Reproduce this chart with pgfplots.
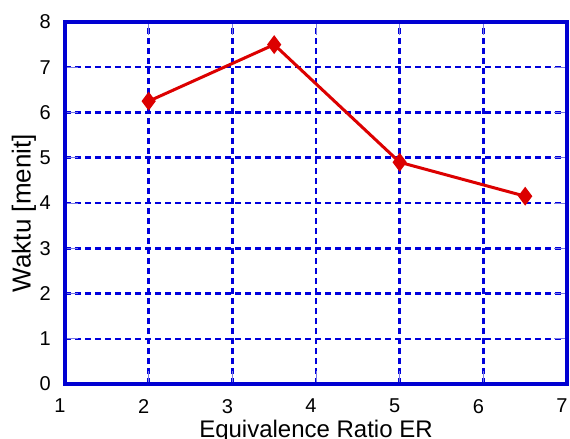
\documentclass[border=0pt]{standalone}
\usepackage{fontspec}
\setmainfont{Liberation Sans}
\usepackage{pgfplots}
\pgfplotsset{compat=1.18}

\definecolor{frameblue}{RGB}{0,0,210}
\definecolor{gridblue}{RGB}{0,0,220}
\definecolor{tickblue}{RGB}{120,120,230}
\definecolor{linered}{RGB}{220,0,0}

\newcommand{\tickfont}{\fontsize{20bp}{20bp}\selectfont}
\newcommand{\xlabelfont}{\fontsize{24bp}{24bp}\selectfont}
\newcommand{\ylabelfont}{\fontsize{26bp}{26bp}\selectfont}

\begin{document}
\begin{tikzpicture}
\begin{axis}[
  at={(0,0)}, anchor=south west, scale only axis,
  width=502bp, height=362bp,
  xmin=1, xmax=7, ymin=0, ymax=8,
  xtick={1,2,3,4,5,6,7}, ytick={0,1,2,3,4,5,6,7,8},
  xticklabels={1,2,3,4,5,6,7},
  yticklabels={0,1,2,3,4,5,6,7,8},
  grid=major,
  major grid style={gridblue, line width=2.5bp, dash pattern=on 6bp off 4bp},
  axis line style={frameblue, line width=4bp},
  tick style={tickblue, line width=0.8bp},
  major tick length=13bp,
  tick align=inside,
  every tick label/.append style={font=\tickfont, inner sep=0pt},
  xticklabel style={anchor=north, yshift=-15bp, xshift=-5bp},
  yticklabel style={anchor=east, xshift=-14bp},
  xlabel={Equivalence Ratio ER},
  xlabel style={font=\xlabelfont, at={(axis description cs:0.5,0)}, anchor=base, yshift=-53bp},
  ylabel={Waktu [menit]},
  ylabel style={font=\ylabelfont, at={(axis description cs:-0.0817,0.472)}, anchor=center},
]
\addplot[linered, line width=3bp, mark=diamond*, mark size=7bp,
         mark options={solid, fill=linered}]
  coordinates {(2,6.25) (3.5,7.5) (5,4.9) (6.5,4.15)};
\end{axis}
\pgfresetboundingbox
\path[use as bounding box] (-65bp,-55bp) rectangle (505bp,384bp);
\end{tikzpicture}
\end{document}
